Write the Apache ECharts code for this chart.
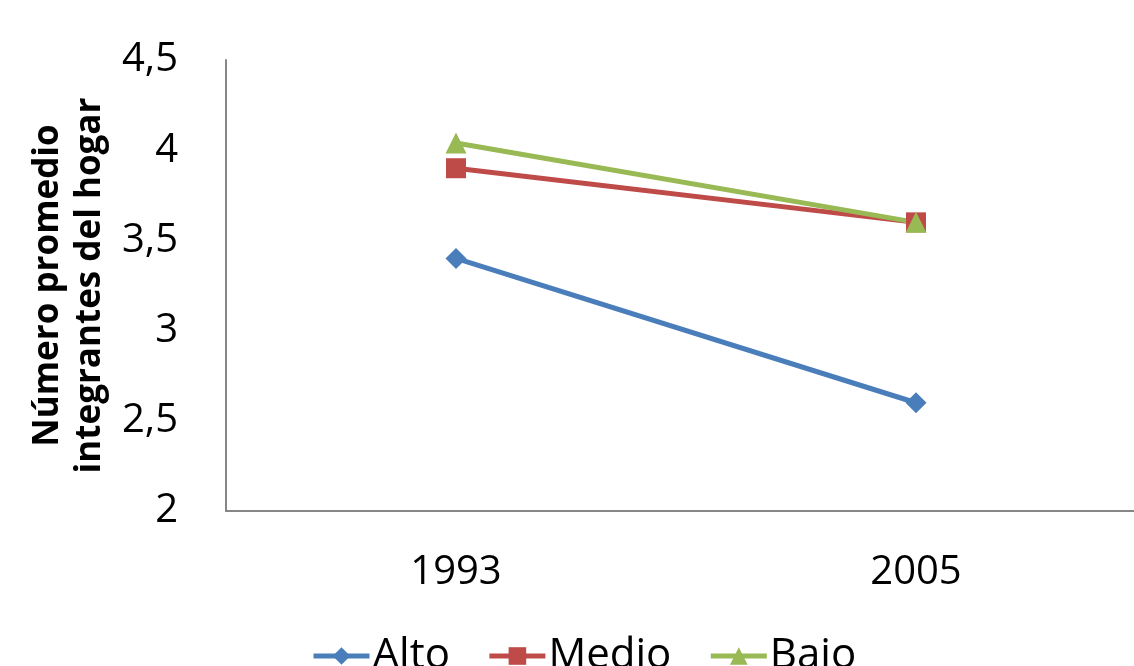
<!DOCTYPE html>
<html>
<head>
<meta charset="utf-8">
<script src="https://cdn.jsdelivr.net/npm/echarts@6/dist/echarts.min.js"></script>
<style>
  html, body { margin: 0; padding: 0; background: #ffffff; }
  #chart { width: 1134px; height: 666px; }
</style>
</head>
<body>
<div id="chart"></div>
<script>
// Average household size by income level, 1993 vs 2005
const years = ['1993', '2005'];
const alto = [3.4, 2.6];
const medio = [3.9, 3.6];
const bajo = [4.04, 3.6];
const yTicks = { min: 2, max: 4.5, interval: 0.5 };

const FONT = '"Open Sans", "Noto Sans", sans-serif';

const chart = echarts.init(document.getElementById('chart'));

function lineSeries(name, data, color, symbol, size) {
  return {
    name: name,
    type: 'line',
    data: data,
    symbol: symbol,
    symbolSize: size,
    lineStyle: { color: color, width: 5 },
    itemStyle: { color: color },
    animation: false
  };
}

chart.setOption({
  backgroundColor: '#ffffff',
  grid: {
    left: 226, right: -12, top: 60, bottom: 155,
    containLabel: false,
    outerBoundsMode: 'none'
  },
  xAxis: {
    type: 'category',
    data: years,
    boundaryGap: true,
    axisLine: { lineStyle: { color: '#868686', width: 2 } },
    axisTick: { show: false },
    axisLabel: { fontFamily: FONT, fontSize: 40, color: '#000', margin: 42 }
  },
  yAxis: {
    type: 'value',
    min: yTicks.min,
    max: yTicks.max,
    interval: yTicks.interval,
    name: 'Número promedio\nintegrantes del hogar',
    nameLocation: 'middle',
    nameRotate: 90,
    nameGap: 115,
    nameTextStyle: { fontFamily: FONT, fontSize: 35, fontWeight: 'bold', color: '#000', lineHeight: 42 },
    axisLine: { show: true, lineStyle: { color: '#868686', width: 2 } },
    axisTick: { show: false },
    splitLine: { show: false },
    axisLabel: {
      fontFamily: FONT, fontSize: 40, color: '#000', margin: 48,
      formatter: v => String(v).replace('.', ',')
    }
  },
  legend: {
    top: 630,
    left: 306,
    itemWidth: 56,
    itemHeight: 22,
    itemGap: 37,
    lineStyle: { width: 5 },
    textStyle: { fontFamily: FONT, fontSize: 42, color: '#000', padding: [0, 0, 0, -2] },
    data: ['Alto', 'Medio', 'Bajo']
  },
  series: [
    lineSeries('Alto', alto, '#4A7EBB', 'diamond', 21),
    lineSeries('Medio', medio, '#BE4B48', 'rect', 20),
    lineSeries('Bajo', bajo, '#98B954', 'triangle', 21)
  ]
});
</script>
</body>
</html>
